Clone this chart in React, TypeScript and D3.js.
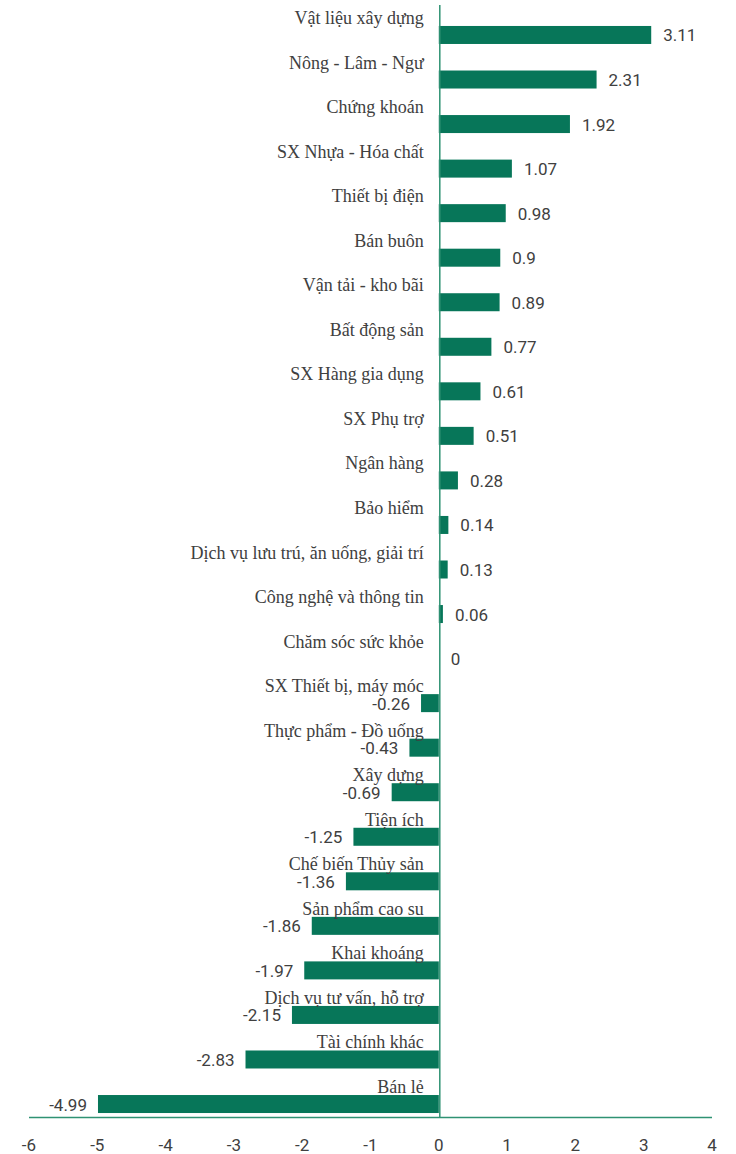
import React from 'react';
import * as d3 from 'd3';

const categories = [
  'Vật liệu xây dựng',
  'Nông - Lâm - Ngư',
  'Chứng khoán',
  'SX Nhựa - Hóa chất',
  'Thiết bị điện',
  'Bán buôn',
  'Vận tải - kho bãi',
  'Bất động sản',
  'SX Hàng gia dụng',
  'SX Phụ trợ',
  'Ngân hàng',
  'Bảo hiểm',
  'Dịch vụ lưu trú, ăn uống, giải trí',
  'Công nghệ và thông tin',
  'Chăm sóc sức khỏe',
  'SX Thiết bị, máy móc',
  'Thực phẩm - Đồ uống',
  'Xây dựng',
  'Tiện ích',
  'Chế biến Thủy sản',
  'Sản phẩm cao su',
  'Khai khoáng',
  'Dịch vụ tư vấn, hỗ trợ',
  'Tài chính khác',
  'Bán lẻ',
];

const values = [
  3.11, 2.31, 1.92, 1.07, 0.98, 0.9, 0.89, 0.77, 0.61, 0.51, 0.28, 0.14, 0.13,
  0.06, 0, -0.26, -0.43, -0.69, -1.25, -1.36, -1.86, -1.97, -2.15, -2.83, -4.99,
];

const xTicks = [-6, -5, -4, -3, -2, -1, 0, 1, 2, 3, 4];

const WIDTH = 736;
const HEIGHT = 1154;
const BAR_COLOR = '#077659';
const AXIS_COLOR = '#2f9273';
const BAR_H = 18;
const NUM_FONT = "Roboto, 'Liberation Sans', sans-serif";

export default function App() {
  const x = d3.scaleLinear().domain([-6, 4]).range([29, 712]);
  const y = d3
    .scaleBand()
    .domain(categories)
    .range([12.7, 1126.3])
    .padding(0);
  const step = y.step();
  const x0 = x(0);

  return (
    <svg
      width={WIDTH}
      height={HEIGHT}
      style={{ position: 'absolute', left: 0, top: 0, background: '#fff' }}
    >
      <g>
        {categories.map((c, i) => {
          const v = values[i];
          const cy = (y(c) as number) + step / 2;
          const xa = Math.min(x(v), x0);
          const w = Math.abs(x(v) - x0);
          return (
            <g key={c}>
              <rect x={xa} y={cy - BAR_H / 2} width={w} height={BAR_H} fill={BAR_COLOR} />
              <text
                x={x0 - 15}
                y={cy - 11}
                textAnchor="end"
                fontFamily="'Liberation Serif', 'Times New Roman', serif"
                fontSize={18}
                fill="#404040"
              >
                {c}
              </text>
              <text
                x={v >= 0 ? x(v) + 12 : x(v) - 11}
                y={cy + 6.5}
                textAnchor={v >= 0 ? 'start' : 'end'}
                fontFamily={NUM_FONT}
                fontSize={17}
                fill="#404040"
              >
                {String(v)}
              </text>
            </g>
          );
        })}
      </g>
      <line x1={x0 + 1} x2={x0 + 1} y1={5} y2={1117} stroke={AXIS_COLOR} strokeWidth={1.5} />
      <line x1={x(-6)} x2={x(4)} y1={1117.5} y2={1117.5} stroke={AXIS_COLOR} strokeWidth={1.5} />
      <g>
        {xTicks.map((t) => (
          <text
            key={t}
            x={x(t)}
            y={1151}
            textAnchor="middle"
            fontFamily={NUM_FONT}
            fontSize={17}
            fill="#404040"
          >
            {t}
          </text>
        ))}
      </g>
    </svg>
  );
}
